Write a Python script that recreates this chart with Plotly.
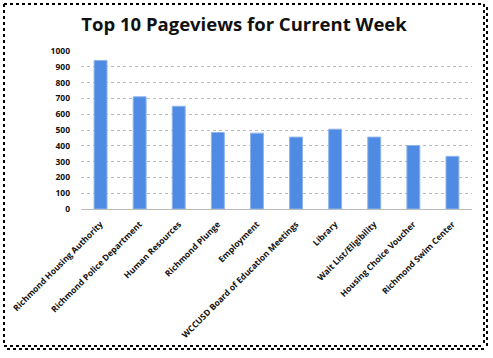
import plotly.graph_objects as go

categories = ["Richmond Housing Authority", "Richmond Police Department", "Human Resources",
              "Richmond Plunge", "Employment", "WCCUSD Board of Education Meetings", "Library",
              "Wait List/Eligibility", "Housing Choice Voucher", "Richmond Swim Center"]
pageviews = [940, 710, 650, 484, 480, 455, 505, 455, 402, 333]
y_ticks = list(range(0, 1001, 100))

W, H = 493, 358
L, R, T, B = 81, 21, 51, 149
pw, ph = W - L - R, H - T - B

def px(x):
    return (x - L) / pw

def py(y):
    return (H - B - y) / ph

fig = go.Figure(go.Bar(x=categories, y=pageviews, marker=dict(color="#4F8BE3",
                line=dict(color="#8DB4EC", width=1)), width=0.33))

shapes = []
# outer dotted frame with shadow
for (x0, y0, x1, y1, w) in [(4, 4, 484, 4, 2), (4, 4, 4, 346, 2), (484, 4, 484, 346, 2), (4, 346, 484, 346, 2),
                             (487, 7, 487, 349, 2), (7, 349, 487, 349, 2)]:
    shapes.append(dict(type="line", xref="paper", yref="paper", x0=px(x0), y0=py(y0), x1=px(x1), y1=py(y1),
                       line=dict(color="black", width=w, dash="dot")))

fig.update_layout(
    width=W, height=H, margin=dict(l=L, r=R, t=T, b=B, autoexpand=False),
    paper_bgcolor="white", plot_bgcolor="white",
    title=dict(text="<b>Top 10 Pageviews for Current Week</b>", x=244 / W, xref="container", xanchor="center",
               y=1 - 25 / H, yref="container", yanchor="middle",
               font=dict(family="Open Sans", size=18.5, color="#111")),
    font=dict(family="Open Sans", color="#111"),
    showlegend=False, bargap=0.67,
    shapes=shapes,
    xaxis=dict(tickangle=-45, tickfont=dict(size=8.5, family="Open Sans", weight="bold"), showgrid=False,
               showline=True, linecolor="#BBBBBB", linewidth=1, ticks="", automargin=False,
               ticklabelstandoff=6),
    yaxis=dict(range=[0, 1000], tickvals=y_ticks, tickfont=dict(size=8.5, weight="bold"),
               showgrid=True, gridcolor="#BBBBBB", griddash="dot", gridwidth=1, zeroline=False,
               ticks="", ticklabelstandoff=10, automargin=False),
)
fig.write_html("out.html", config={"displayModeBar": False},
               post_script="document.body.style.margin='0';document.body.style.overflow='hidden';")
